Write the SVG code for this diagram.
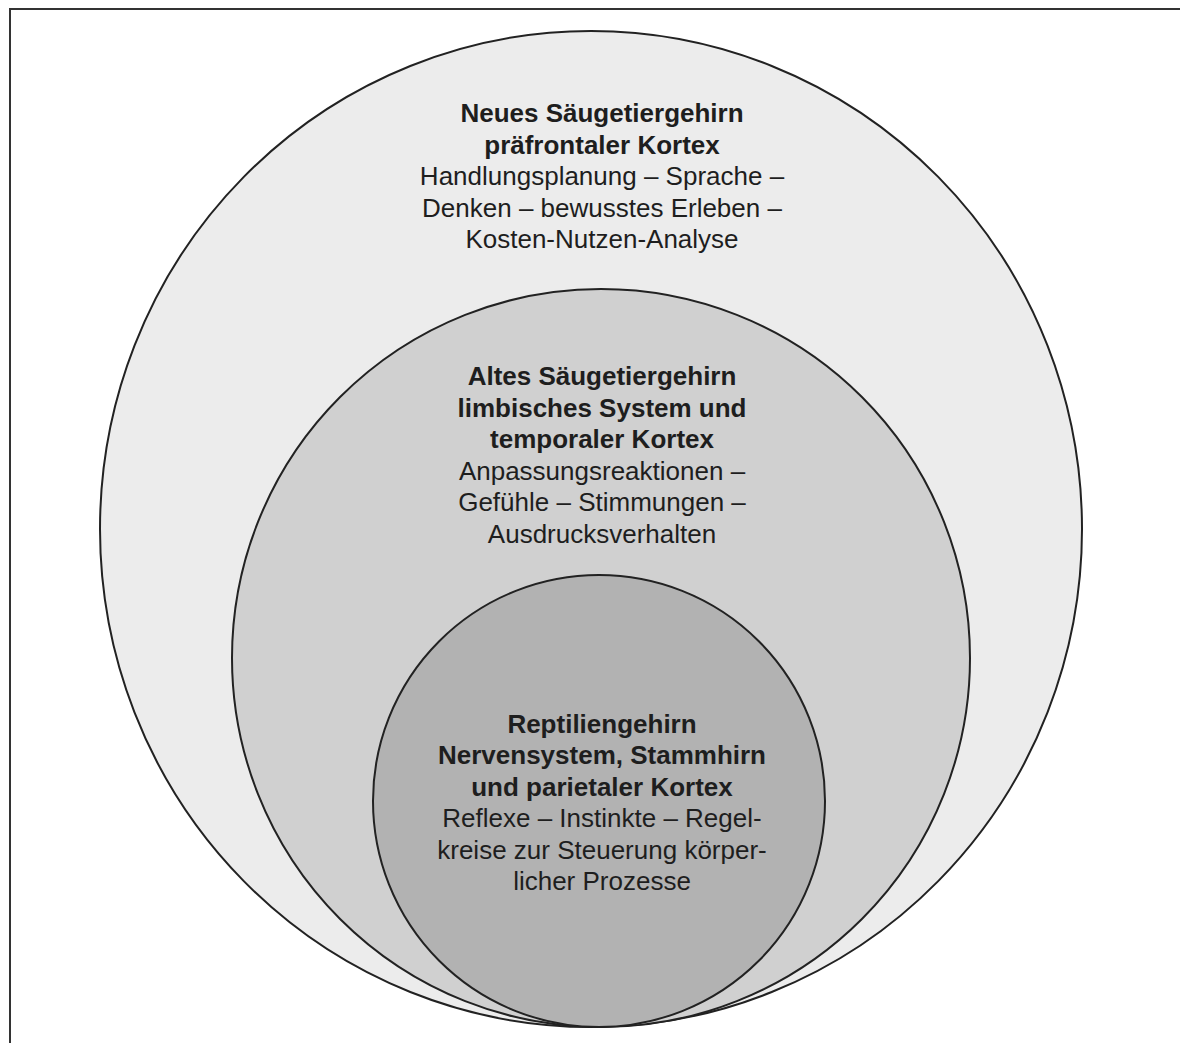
<svg xmlns="http://www.w3.org/2000/svg" width="1180" height="1043" viewBox="0 0 1180 1043">
  <style>
    .ring { stroke: #222; stroke-width: 2; }
    text { font-family: "Liberation Sans", Arial, Helvetica, sans-serif; font-size: 26px; fill: #1e1e1e; text-anchor: middle; }
    .b { font-weight: bold; }
  </style>
  <rect x="0" y="0" width="1180" height="1043" fill="#ffffff"/>
  <rect x="10" y="9" width="1200" height="1100" fill="none" stroke="#333" stroke-width="2"/>
  <g id="neues-saeugetiergehirn">
    <ellipse class="ring" cx="591" cy="529" rx="491" ry="498" fill="#ececec"/>
    <text x="602" y="122" class="b">Neues Säugetiergehirn</text>
    <text x="602" y="153.5" class="b">präfrontaler Kortex</text>
    <text x="602" y="185">Handlungsplanung – Sprache –</text>
    <text x="602" y="216.5">Denken – bewusstes Erleben –</text>
    <text x="602" y="248">Kosten-Nutzen-Analyse</text>
  </g>
  <g id="altes-saeugetiergehirn">
    <circle class="ring" cx="601" cy="658" r="369" fill="#d0d0d0"/>
    <text x="602" y="385" class="b">Altes Säugetiergehirn</text>
    <text x="602" y="416.5" class="b">limbisches System und</text>
    <text x="602" y="448" class="b">temporaler Kortex</text>
    <text x="602" y="479.5">Anpassungsreaktionen –</text>
    <text x="602" y="511">Gefühle – Stimmungen –</text>
    <text x="602" y="542.5">Ausdrucksverhalten</text>
  </g>
  <g id="reptiliengehirn">
    <circle class="ring" cx="599" cy="801" r="226" fill="#b2b2b2"/>
    <text x="602" y="732.5" class="b">Reptiliengehirn</text>
    <text x="602" y="764" class="b">Nervensystem, Stammhirn</text>
    <text x="602" y="795.5" class="b">und parietaler Kortex</text>
    <text x="602" y="827">Reflexe – Instinkte – Regel-</text>
    <text x="602" y="858.5">kreise zur Steuerung körper-</text>
    <text x="602" y="890">licher Prozesse</text>
  </g>
  <g id="connectors"></g>
</svg>
